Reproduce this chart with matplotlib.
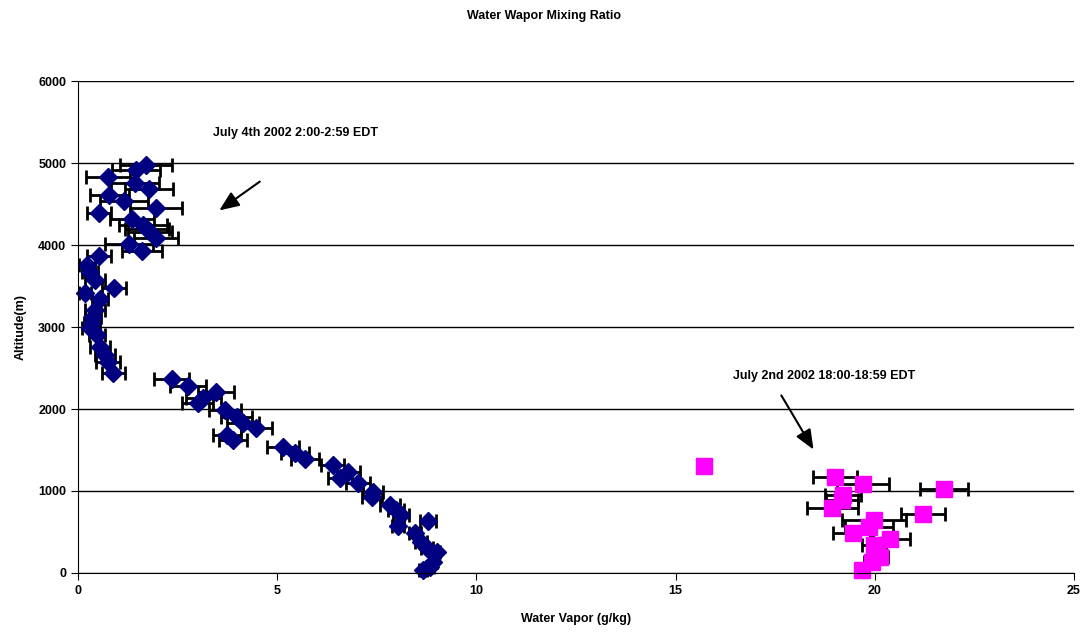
import matplotlib.pyplot as plt

plt.rcParams['font.family'] = ['Liberation Sans', 'DejaVu Sans']

# July 4th profile (navy diamonds)
jul4_vapor = [1.71, 1.45, 0.75, 1.43, 1.78, 0.79, 1.15, 1.96, 0.53, 1.36, 1.64, 1.74, 1.81, 1.96, 1.29, 1.60,
              0.53, 0.22, 0.30, 0.43, 0.91, 0.18, 0.55, 0.43, 0.38, 0.35, 0.30, 0.47, 0.55, 0.68, 0.76, 0.89,
              2.35, 2.77, 3.46, 3.15, 3.00, 3.69, 3.98, 4.15, 4.48, 3.73, 3.90, 5.14, 5.45, 5.70, 6.39, 6.79,
              6.58, 7.04, 7.41, 7.37, 7.83, 7.99, 8.12, 8.79, 8.04, 8.47, 8.62, 8.75, 9.00, 8.92, 8.84, 8.67]
jul4_alt = [4976, 4915, 4833, 4760, 4680, 4610, 4537, 4455, 4386, 4313, 4244, 4200, 4163, 4090, 4012, 3930,
            3866, 3756, 3674, 3573, 3480, 3410, 3337, 3207, 3126, 3050, 2984, 2902, 2760, 2659, 2577, 2435,
            2366, 2280, 2211, 2130, 2069, 1988, 1906, 1833, 1765, 1683, 1622, 1541, 1460, 1387, 1317, 1235,
            1155, 1094, 991, 930, 829, 768, 707, 638, 575, 484, 382, 301, 260, 138, 77, 37]
jul4_err = [0.65, 0.6, 0.55, 0.6, 0.6, 0.5, 0.6, 0.65, 0.3, 0.55, 0.6, 0.55, 0.55, 0.55, 0.6, 0.5,
            0.3, 0.2, 0.2, 0.25, 0.3, 0.15, 0.2, 0.25, 0.2, 0.2, 0.2, 0.2, 0.25, 0.25, 0.3, 0.3,
            0.43, 0.45, 0.45, 0.45, 0.4, 0.4, 0.4, 0.4, 0.4, 0.35, 0.35, 0.4, 0.35, 0.35, 0.3, 0.3,
            0.3, 0.3, 0.25, 0.25, 0.25, 0.2, 0.2, 0.2, 0.15, 0.15, 0.15, 0.15, 0.1, 0.1, 0.1, 0.1]

# July 2nd profile (magenta squares)
jul2_vapor = [15.71, 19.00, 19.71, 21.74, 19.21, 19.17, 18.94, 21.22, 19.98, 19.86, 19.45, 20.38,
              19.98, 20.05, 20.13, 19.92, 19.67]
jul2_alt = [1309, 1167, 1085, 1024, 951, 890, 789, 716, 646, 565, 492, 411, 341, 260, 199, 138, 37]
jul2_err = [0.1, 0.55, 0.65, 0.6, 0.45, 0.4, 0.65, 0.55, 0.8, 0.6, 0.5, 0.5, 0.3, 0.2, 0.2, 0.2, 0.1]

fig = plt.figure(figsize=(10.88, 6.38), dpi=100)
ax = fig.add_axes([0.0717, 0.1019, 0.9153, 0.7711])

for xs, ys, errs, mk, col, ms in [(jul4_vapor, jul4_alt, jul4_err, 'D', '#000080', 9),
                                   (jul2_vapor, jul2_alt, jul2_err, 's', '#FF00FF', 11)]:
    eb = ax.errorbar(xs, ys, xerr=errs, fmt=mk, color=col, markersize=ms,
                     ecolor='black', elinewidth=2, capsize=5, capthick=2)
    eb[0].set_clip_on(False)
    for c in eb[1]:
        c.set_clip_on(False)
    for b in eb[2]:
        b.set_clip_on(False)

ax.set_xlim(0, 25)
ax.set_ylim(0, 6000)
ax.set_xticks([0, 5, 10, 15, 20, 25])
ax.set_yticks(range(0, 6001, 1000))
ax.yaxis.grid(True, color='black', linewidth=1)
ax.set_axisbelow(True)
for s in ['top', 'right']:
    ax.spines[s].set_visible(False)
ax.tick_params(direction='out', length=5, labelsize=9)
for lab in ax.get_xticklabels() + ax.get_yticklabels():
    lab.set_fontweight('bold')

ax.set_xlabel('Water Vapor (g/kg)', fontsize=9, fontweight='bold', labelpad=12)
ax.set_ylabel('Altitude(m)', fontsize=9, fontweight='bold', labelpad=8)
fig.suptitle('Water Wapor Mixing Ratio', y=0.985, fontsize=9, fontweight='bold')

arrow = dict(arrowstyle='-|>,head_length=1.2,head_width=0.5', color='black', lw=1.5)
ax.text(3.39, 5366, 'July 4th 2002 2:00-2:59 EDT', fontsize=9, fontweight='bold', va='center')
ax.annotate('', xy=(3.49, 4402), xytext=(4.62, 4793), arrowprops=arrow)
ax.text(16.44, 2402, 'July 2nd 2002 18:00-18:59 EDT', fontsize=9, fontweight='bold', va='center')
ax.annotate('', xy=(18.50, 1476), xytext=(17.62, 2195), arrowprops=arrow)

fig.savefig('out.png', dpi=100)
